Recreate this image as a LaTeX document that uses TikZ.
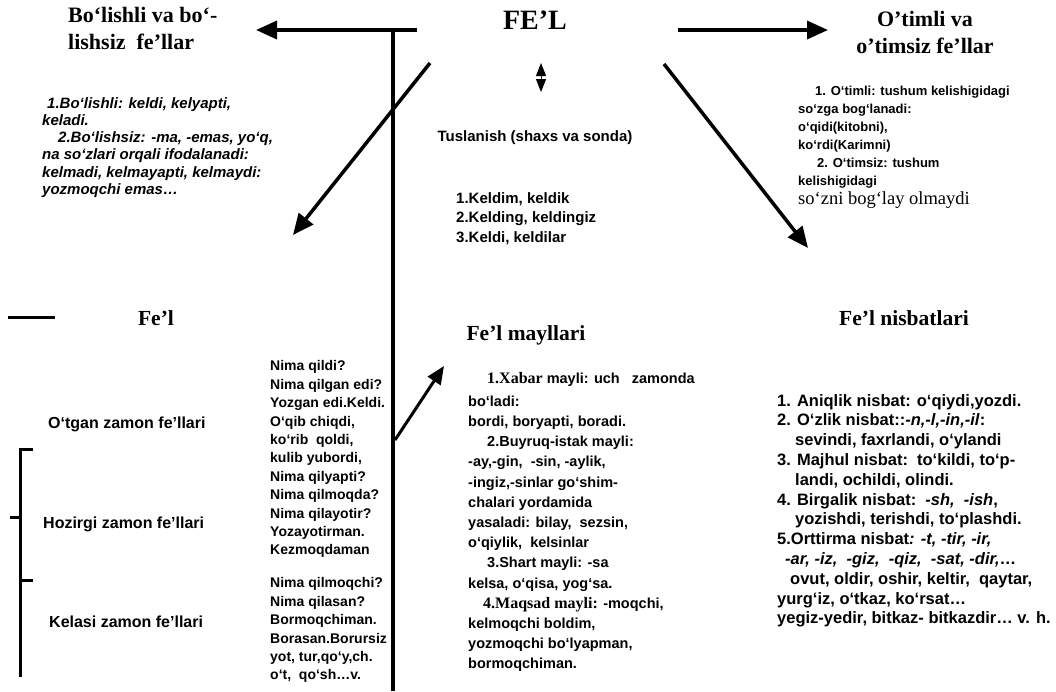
\documentclass[tikz,border=0pt]{standalone}
\usepackage{fontspec}
\setmainfont{Liberation Serif}
\setsansfont{Liberation Sans}
\usetikzlibrary{arrows.meta}
\tikzset{
  ln/.style={line width=3.5pt},
  thin ln/.style={line width=3pt},
  arr/.style={ln, -{Triangle[length=21pt,width=18pt]}},
  marr/.style={line width=3pt, -{Triangle[length=18pt,width=15pt]}},
  dbl/.style={line width=1pt, {Triangle[length=13pt,width=10pt]}-{Triangle[length=13pt,width=10pt]}},
  title/.style={inner sep=0, font=\fontsize{28}{32}\selectfont\rmfamily\bfseries},
  head/.style={inner sep=0, font=\fontsize{22}{27.5}\selectfont\rmfamily\bfseries},
  sub/.style={inner sep=0, font=\fontsize{21.5}{26}\selectfont\rmfamily\bfseries},
  body/.style={inner sep=0, anchor=north west, align=left},
  lab/.style={inner sep=0, anchor=west, text height=.72em, text depth=.21em, font=\fontsize{16}{18}\selectfont\sffamily\bfseries},
}
\newcommand{\serifpart}[1]{{\fontsize{16}{20.2}\selectfont\rmfamily #1}}
\begin{document}
\begin{tikzpicture}[x=1pt,y=-1pt]
\path[use as bounding box, fill=white] (0,0) rectangle (1056,691);

% ---------- titles ----------
\node[title] (fel) at (535,20) {FE’L};
\node[head, anchor=north west, align=left] (bol) at (68,7) {Bo‘lishli va bo‘-\\lishsiz\ \ fe’llar};
\node[head, anchor=north, align=center] (oti) at (925,11) {O’timli va\\o’timsiz fe’llar};

% ---------- upper texts ----------
\node[body, font=\fontsize{15}{17.3}\selectfont\sffamily\bfseries\itshape] (bolx) at (42,97)
 {\hspace*{5pt}1.Bo‘lishli: keldi, kelyapti,\\keladi.\\\hspace*{16pt}2.Bo‘lishsiz: -ma, -emas, yo‘q,\\na so‘zlari orqali ifodalanadi:\\kelmadi, kelmayapti, kelmaydi:\\yozmoqchi emas…};

\node[inner sep=0, font=\fontsize{15}{18}\selectfont\sffamily\bfseries] (tus) at (535,138) {Tuslanish (shaxs va sonda)};
\node[body, font=\fontsize{15}{19.8}\selectfont\sffamily\bfseries] (kel) at (456,192)
 {1.Keldim, keldik\\2.Kelding, keldingiz\\3.Keldi, keldilar};

\node[body, font=\fontsize{13}{18}\selectfont\sffamily\bfseries] (otx) at (798,86)
 {\hspace*{17pt}1. O‘timli: tushum kelishigidagi\\so‘zga bog‘lanadi:\\o‘qidi(kitobni),\\ko‘rdi(Karimni)\\\hspace*{19pt}2. O‘timsiz: tushum\\kelishigidagi};
\node[inner sep=0, anchor=west, font=\fontsize{18.5}{22}\selectfont\rmfamily] (otz) at (798,200) {so‘zni bog‘lay olmaydi};

% ---------- second row headings ----------
\node[sub] (fel2) at (156,318) {Fe’l};
\node[sub] (may) at (526,335) {Fe’l mayllari};
\node[sub] (nis) at (904,318) {Fe’l nisbatlari};

% ---------- tense labels ----------
\node[lab] (otg) at (48,426) {O‘tgan zamon fe’llari};
\node[lab] (hoz) at (43,526) {Hozirgi zamon fe’llari};
\node[lab] (kls) at (49,625) {Kelasi zamon fe’llari};

% ---------- question column ----------
\node[body, font=\fontsize{14}{18.4}\selectfont\sffamily\bfseries] (nim) at (270,360.5)
 {Nima qildi?\\Nima qilgan edi?\\Yozgan edi.Keldi.\\O‘qib chiqdi,\\ko‘rib\ \ qoldi,\\kulib yubordi,\\Nima qilyapti?\\Nima qilmoqda?\\Nima qilayotir?\\Yozayotirman.\\Kezmoqdaman\\[14.6pt]Nima qilmoqchi?\\Nima qilasan?\\Bormoqchiman.\\Borasan.Borursiz\\yot, tur,qo‘y,ch.\\o‘t,\ \ qo‘sh…v.};

% ---------- moods ----------
\node[body, font=\fontsize{14.5}{20.2}\selectfont\sffamily\bfseries] (mayx) at (468,372)
 {\hspace*{19pt}\serifpart{1.Xabar} mayli: uch\ \ \ zamonda\\[2.8pt]bo‘ladi:\\bordi, boryapti, boradi.\\\hspace*{19pt}2.Buyruq-istak mayli:\\-ay,-gin,\ \ -sin, -aylik,\\-ingiz,-sinlar go‘shim-\\chalari yordamida\\yasaladi: bilay,\ \ sezsin,\\o‘qiylik,\ \ kelsinlar\\\hspace*{19pt}3.Shart mayli: -sa\\kelsa, o‘qisa, yog‘sa.\\\hspace*{15pt}\serifpart{4.Maqsad mayli:} -moqchi,\\kelmoqchi boldim,\\yozmoqchi bo‘lyapman,\\bormoqchiman.};

% ---------- voices ----------
\node[body, font=\fontsize{16.5}{19.8}\selectfont\sffamily\bfseries] (nisx) at (777,394)
 {1. Aniqlik nisbat: o‘qiydi,yozdi.\\2. O‘zlik nisbat::\textit{-n,-l,-in,-il}:\\\hspace*{18pt}sevindi, faxrlandi, o‘ylandi\\3. Majhul nisbat:\ \ to‘kildi, to‘p-\\\hspace*{18pt}landi, ochildi, olindi.\\4. Birgalik nisbat:\ \ \textit{-sh,\ \ -ish},\\\hspace*{18pt}yozishdi, terishdi, to‘plashdi.\\5.Orttirma nisbat\textit{: -t, -tir, -ir,}\\\hspace*{8pt}\textit{-ar, -iz,\ \ -giz,\ \ -qiz,\ \ -sat, -dir,}…\\\hspace*{13pt}ovut, oldir, oshir, keltir,\ \ qaytar,\\yurg‘iz, o‘tkaz, ko‘rsat…\\yegiz-yedir, bitkaz- bitkazdir… v. h.};

% ---------- connectors ----------
\coordinate (la) at (417,30);
\coordinate (lt) at (256,30);
\draw[arr] (la) -- (lt);
\coordinate (vt) at (393,30);
\coordinate (vb) at (393,691);
\draw[ln] (vt) -- (vb);
\coordinate (ra) at (678,30);
\coordinate (rt) at (828,30);
\draw[arr] (ra) -- (rt);
\coordinate (da) at (430,63);
\coordinate (dt) at (293,235);
\draw[arr] (da) -- (dt);
\coordinate (ea) at (664,64);
\coordinate (et) at (808,248);
\draw[arr] (ea) -- (et);
\coordinate (ma) at (395,440);
\coordinate (mt) at (444,366);
\draw[marr] (ma) -- (mt);
\coordinate (ua) at (541,63);
\coordinate (ub) at (541,92);
\draw[dbl] (ua) -- (ub);

% short dash left of Fe'l
\coordinate (sa) at (8,317);
\coordinate (sb) at (55,317);
\draw[thin ln] (sa) -- (sb);

% bracket
\coordinate (b1) at (33,449);
\coordinate (b2) at (20,449);
\coordinate (b3) at (20,677);
\coordinate (b4) at (10,517);
\coordinate (b5) at (20,517);
\coordinate (b6) at (20,580);
\coordinate (b7) at (33,580);
\draw[thin ln] (b1) -- (b2) -- (b3);
\draw[thin ln] (b4) -- (b5);
\draw[thin ln] (b6) -- (b7);
\end{tikzpicture}
\end{document}
